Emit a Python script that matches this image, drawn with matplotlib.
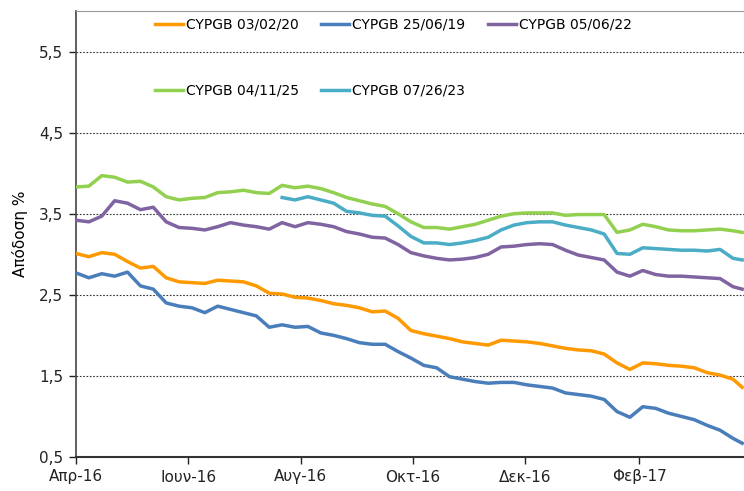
import numpy as np
import pandas as pd
import matplotlib
matplotlib.use('Agg')
import matplotlib.pyplot as plt

# weekly readings from 1 Apr 2016, last point 29 Mar 2017
dates = list(pd.date_range('2016-04-01', periods=52, freq='7D')) + [pd.Timestamp('2017-03-29')]

orange = [3.01, 2.97, 3.02, 3.00, 2.91, 2.83, 2.85, 2.71, 2.66, 2.65, 2.64, 2.68, 2.67, 2.66,
          2.61, 2.52, 2.51, 2.47, 2.46, 2.43, 2.39, 2.37, 2.34, 2.29, 2.30, 2.21, 2.06,
          2.02, 1.99, 1.96, 1.92, 1.90, 1.88, 1.94, 1.93, 1.92, 1.90, 1.87, 1.84, 1.82,
          1.81, 1.77, 1.66, 1.58, 1.66, 1.65, 1.63, 1.62, 1.60, 1.54, 1.51, 1.46, 1.36]
blue = [2.77, 2.71, 2.76, 2.73, 2.78, 2.61, 2.57, 2.40, 2.36, 2.34, 2.28, 2.36, 2.32, 2.28,
        2.24, 2.10, 2.13, 2.10, 2.11, 2.03, 2.00, 1.96, 1.91, 1.89, 1.89, 1.80, 1.72,
        1.63, 1.60, 1.49, 1.46, 1.43, 1.41, 1.42, 1.42, 1.39, 1.37, 1.35, 1.29, 1.27,
        1.25, 1.21, 1.06, 0.99, 1.12, 1.10, 1.04, 1.00, 0.96, 0.89, 0.83, 0.73, 0.67]
purple = [3.42, 3.40, 3.47, 3.66, 3.63, 3.55, 3.58, 3.40, 3.33, 3.32, 3.30, 3.34, 3.39, 3.36,
          3.34, 3.31, 3.39, 3.34, 3.39, 3.37, 3.34, 3.28, 3.25, 3.21, 3.20, 3.12, 3.02,
          2.98, 2.95, 2.93, 2.94, 2.96, 3.00, 3.09, 3.10, 3.12, 3.13, 3.12, 3.05, 2.99,
          2.96, 2.93, 2.78, 2.73, 2.80, 2.75, 2.73, 2.73, 2.72, 2.71, 2.70, 2.60, 2.57]
green = [3.83, 3.84, 3.97, 3.95, 3.89, 3.90, 3.83, 3.71, 3.67, 3.69, 3.70, 3.76, 3.77, 3.79,
         3.76, 3.75, 3.85, 3.82, 3.84, 3.81, 3.76, 3.70, 3.66, 3.62, 3.59, 3.50, 3.40,
         3.33, 3.33, 3.31, 3.34, 3.37, 3.42, 3.47, 3.50, 3.51, 3.51, 3.51, 3.48, 3.49,
         3.49, 3.49, 3.27, 3.30, 3.37, 3.34, 3.30, 3.29, 3.29, 3.30, 3.31, 3.29, 3.27]
cyan = [np.nan] * 16 + [
        3.70, 3.67, 3.71, 3.67, 3.63, 3.53, 3.51, 3.48, 3.47, 3.35, 3.22,
        3.14, 3.14, 3.12, 3.14, 3.17, 3.21, 3.30, 3.36, 3.39, 3.40, 3.40, 3.36, 3.33,
        3.30, 3.25, 3.01, 3.00, 3.08, 3.07, 3.06, 3.05, 3.05, 3.04, 3.06, 2.95, 2.93]

series_names = ['CYPGB 03/02/20', 'CYPGB 25/06/19', 'CYPGB 05/06/22', 'CYPGB 04/11/25', 'CYPGB 07/26/23']
colors = ['#FF9900', '#4A7EBB', '#8064A2', '#92D050', '#4BACC6']

x_tick_dates = ['2016-04-01', '2016-06-01', '2016-08-01', '2016-10-01', '2016-12-01', '2017-02-01']
x_tick_labels = ['Απρ-16', 'Ιουν-16', 'Αυγ-16', 'Οκτ-16', 'Δεκ-16', 'Φεβ-17']
y_ticks = [0.5, 1.5, 2.5, 3.5, 4.5, 5.5]
y_tick_labels = ['0,5', '1,5', '2,5', '3,5', '4,5', '5,5']

plt.rcParams['font.family'] = ['DejaVu Sans']

fig = plt.figure(figsize=(7.44, 4.91), dpi=100)
ax = fig.add_axes([76 / 744, 1 - 457 / 491, 1 - 76 / 744, (457 - 11) / 491])

lines = {}
for name, vals, c in zip(series_names, [orange, blue, purple, green, cyan], colors):
    lines[name], = ax.plot(dates, vals, color=c, lw=2.5, solid_joinstyle='round', zorder=3)

ax.set_ylim(0.5, 6.0)
ax.set_xlim(pd.Timestamp('2016-04-01'), pd.Timestamp('2017-03-30'))
ax.set_yticks(y_ticks)
ax.set_yticklabels(y_tick_labels, fontsize=11)
ax.set_xticks(pd.to_datetime(x_tick_dates))
ax.set_xticklabels(x_tick_labels, fontsize=11)
ax.tick_params(direction='out', length=5, width=1, colors='#222222', pad=4)
ax.set_ylabel('Απόδοση %', fontsize=11, labelpad=8)

for v in y_ticks[1:]:
    ax.axhline(v, color='#333333', lw=0.8, ls=(0, (1.5, 1.5)), zorder=1)

ax.spines['right'].set_visible(False)
ax.spines['top'].set_color('#999999')
ax.spines['left'].set_color('#444444')
ax.spines['bottom'].set_color('#333333')
ax.spines['left'].set_linewidth(1.2)
ax.spines['bottom'].set_linewidth(1.5)

order = [0, 3, 1, 4, 2]
ax.legend([lines[series_names[i]] for i in order], [series_names[i] for i in order],
          ncol=3, frameon=False, fontsize=10, loc='upper left',
          bbox_to_anchor=(155 / 744, 1 - 18 / 491), bbox_transform=fig.transFigure,
          handlelength=2.0, handletextpad=0.2, columnspacing=1.65, labelspacing=3.7,
          borderpad=0, borderaxespad=0)

fig.savefig('out.png', dpi=100)
